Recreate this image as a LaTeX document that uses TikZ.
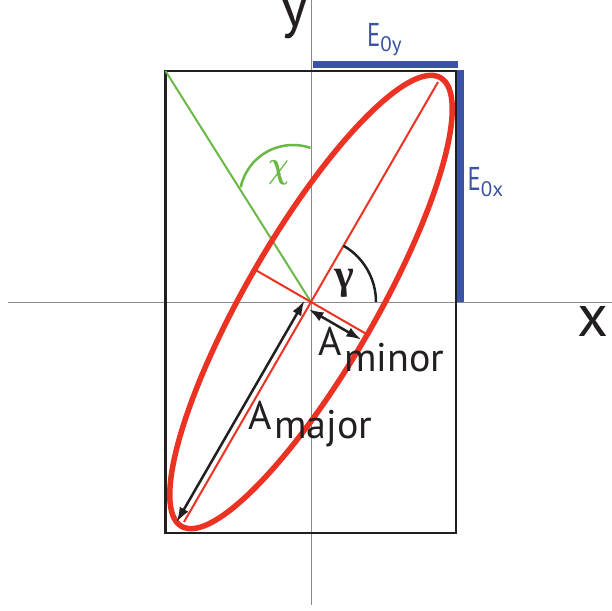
\RequirePackage{fix-cm}
\documentclass[tikz,border=0pt]{standalone}
\usepackage{bm}
\usepackage{fontspec}
\setmainfont{PT Sans}
\newfontfamily\greekfont{Liberation Serif}
\usetikzlibrary{arrows.meta}
\definecolor{ered}{HTML}{EB3223}
\definecolor{eblue}{HTML}{3A53A4}
\definecolor{egreen}{HTML}{6AB846}
\definecolor{eblack}{HTML}{231F20}
\definecolor{egray}{HTML}{8A8A8A}
\begin{document}
\begin{tikzpicture}[x=1pt,y=1pt,
  axisline/.style={draw=egray, line width=1pt},
  frame/.style={draw=eblack, line width=2.5pt},
  bar/.style={draw=eblue, line width=7pt},
  ellipseline/.style={draw=ered, line width=5.5pt},
  thinred/.style={draw=ered, line width=2pt},
  dim/.style={draw=eblack, line width=2.5pt, {Latex[length=15pt,width=10pt]}-{Latex[length=15pt,width=10pt]}},
  lbl/.style={inner sep=0pt, text=eblack},
  big/.style={lbl, font=\fontsize{40}{40}\selectfont},
  huge/.style={lbl, font=\fontsize{60}{60}\selectfont},
  elbl/.style={inner sep=0pt, text=eblue, anchor=base west}]
\useasboundingbox (-311,-308) rectangle (301,302);
% axes
\coordinate (xl) at (-303,0);
\coordinate (xr) at (301,0);
\coordinate (yt) at (0,302);
\coordinate (yb) at (0,-303);
\coordinate (O) at (0,0);
\draw[axisline] (xl) -- (xr);
\draw[axisline] (yt) -- (yb);
% frame rectangle
\coordinate (r1) at (-145.5,-231);
\coordinate (r2) at (145,231);
\draw[frame] (r1) rectangle (r2);
% blue bars
\coordinate (b1) at (1.5,237.3);
\coordinate (b2) at (147,237.3);
\coordinate (b3) at (149.3,232);
\coordinate (b4) at (149.3,0.5);
\draw[bar] (b1) -- (b2);
\draw[bar] (b3) -- (b4);
\node[elbl] (e0y) at (56,255) {\scalebox{0.75}[1]{\fontsize{33}{33}\selectfont E}\raisebox{-5pt}{\fontsize{21}{21}\selectfont 0y}};
\node[elbl] (e0x) at (156.5,111) {\scalebox{0.75}[1]{\fontsize{33}{33}\selectfont E}\raisebox{-6pt}{\fontsize{21}{21}\selectfont 0x}};
% green line and arc
\coordinate (tl) at (-145.5,231);
\draw[draw=egreen, line width=2pt] (tl) -- (O);
\coordinate (gc) at (-18,103.5);
\draw[draw=egreen, line width=2.5pt] ([shift={(71:53.5)}]gc) arc[start angle=71, end angle=168, radius=53.5];
\node[inner sep=0pt, text=egreen] (chi) at (-32.5,129) {\scalebox{0.75}[1]{\fontsize{38}{38}\selectfont$\bm{\chi}$}};
% ellipse
\draw[ellipseline, rotate=60] (O) ellipse [x radius=259, y radius=65];
\coordinate (maj1) at (60:254);
\coordinate (maj2) at (240:254);
\coordinate (min1) at (150:64);
\coordinate (min2) at (330:64);
\draw[thinred] (maj1) -- (maj2);
\draw[thinred] (min1) -- (min2);
% gamma arc
\draw[draw=eblack, line width=2.5pt] (65,0) arc[start angle=0, end angle=60, radius=65];
\node[inner sep=0pt, text=eblack, font=\greekfont\bfseries\fontsize{42}{42}\selectfont] (gam) at (33.5,19) {γ};
% dimension arrows
\coordinate (am1) at (-6.5,1.4);
\coordinate (am2) at (-134.5,-220.3);
\draw[dim] (am1) -- (am2);
\coordinate (an1) at (-2.4,-7.2);
\coordinate (an2) at (50.4,-37.7);
\draw[dim] (an1) -- (an2);
% labels
\node[big, anchor=base west] (amajA) at (-63,-127) {A};
\node[big, anchor=base west] (amajS) at (-37,-136) {major};
\node[big, anchor=base west] (aminA) at (7,-53) {A};
\node[big, anchor=base west] (aminS) at (33,-69.7) {minor};
\node[huge, anchor=base] (ylab) at (-16.5,275) {y};
\node[huge, anchor=base] (xlab) at (282,-34.7) {x};
\end{tikzpicture}
\end{document}
